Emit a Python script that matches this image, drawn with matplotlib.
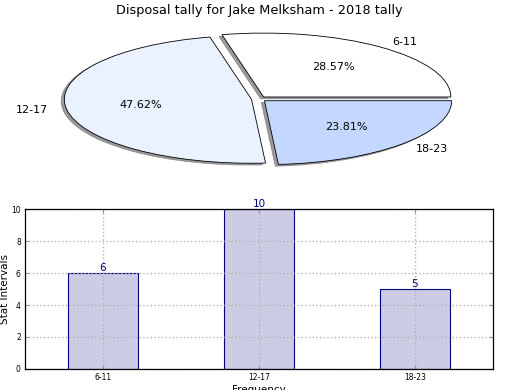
import matplotlib
matplotlib.use("Agg")
import matplotlib.pyplot as plt

# Disposal tally data
intervals = ["6-11", "12-17", "18-23"]
counts = [6, 10, 5]
pie_colors = ["#ffffff", "#eaf1ff", "#c4d8ff"]
explode = [0.04, 0.04, 0.04]

fig, (ax1, ax2) = plt.subplots(2, 1, figsize=(5.2, 3.9), dpi=100)
fig.subplots_adjust(left=0.048, right=0.948, top=0.951, bottom=0.054, hspace=0.19)

# Pie chart (stretched, not circular)
wedges, texts, autotexts = ax1.pie(
    counts, labels=intervals, colors=pie_colors, explode=explode,
    autopct="%1.2f%%", shadow=dict(ox=-0.012, oy=-0.02, color="0.5", alpha=0.8),
    startangle=0,
    wedgeprops=dict(edgecolor="black", linewidth=0.6),
    textprops=dict(fontsize=8),
)
ax1.set_aspect("auto")
ax1.set_xlim(-1.25, 1.25)
ax1.set_ylim(-1.25, 1.25)
ax1.set_title("Disposal tally for Jake Melksham - 2018 tally", fontsize=9.3, pad=4)

# Bar chart
x = range(len(intervals))
ax2.bar(x, counts, width=0.45, color="navy", alpha=0.2, zorder=1)
ax2.bar(x, counts, width=0.45, facecolor="none", edgecolor="navy", linewidth=0.8, zorder=2)
for xi, v in zip(x, counts):
    ax2.text(xi, v, str(v), ha="center", va="bottom", color="navy", fontsize=7.5)

ax2.set_xlim(-0.5, 2.5)
ax2.set_ylim(0, 10)
ax2.set_xticks(list(x))
ax2.set_xticklabels(intervals)
ax2.set_yticks([0, 2, 4, 6, 8, 10])
ax2.tick_params(labelsize=5.5, direction="in", top=True, right=True, length=3, color="0.6", pad=3)
ax2.grid(True, linestyle=":", color="0.7", linewidth=1.0, zorder=3)
ax2.set_axisbelow(False)
ax2.set_xlabel("Frequency", fontsize=7.5, labelpad=2)
ax2.set_ylabel("Stat Intervals", fontsize=7.5, labelpad=1)
for s in ax2.spines.values():
    s.set_linewidth(0.9)
    s.set_zorder(4)

fig.savefig("out.png", dpi=100, facecolor="white")
